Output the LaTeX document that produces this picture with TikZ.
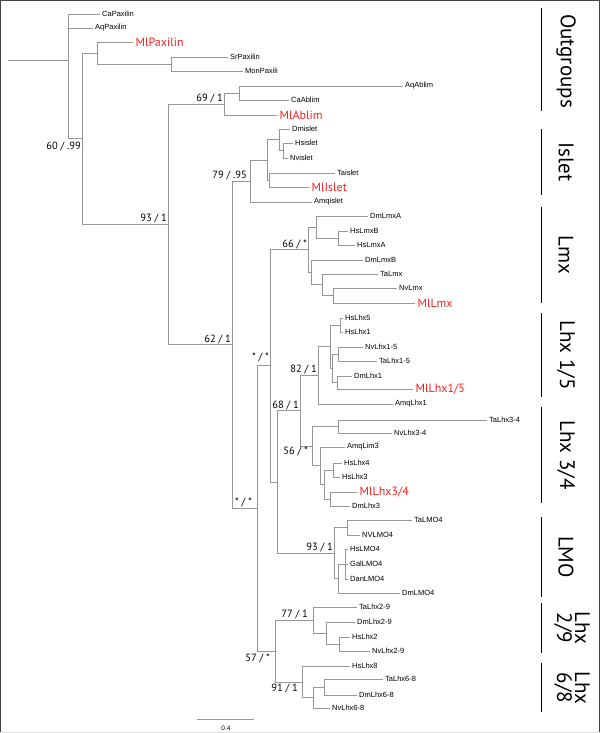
\documentclass[tikz,border=0pt]{standalone}
\usepackage{fontspec}
\setmainfont{Liberation Sans}
\newfontfamily\cladefont{PT Sans}
\definecolor{branchgray}{RGB}{150,150,150}
\definecolor{mlred}{RGB}{250,30,30}

\begin{document}
\begin{tikzpicture}[x=1pt,y=-1pt,
    branch/.style={
% The line:
draw=branchgray, line width=0.8pt,
},
    taxon/.style={
% The anchor:
anchor=west, inner sep=2pt,
% The text:
font=\fontsize{7.5}{9}\selectfont,
},
    ml/.style={
% The anchor:
anchor=west, inner sep=2.5pt,
% The text:
font=\cladefont\fontsize{12}{14}\selectfont, text=mlred,
},
    support/.style={
inner sep=1pt,
font=\cladefont\fontsize{10.5}{12}\selectfont,
},
    clade/.style={
rotate=-90, align=center,
font=\cladefont\fontsize{21}{18}\selectfont,
},
    cladebar/.style={draw=black, line width=0.8pt},
]
  \useasboundingbox (0,0) rectangle (600,733);
  % frame
  \draw[black!75, line width=1pt] (0.5,733) -- (0.5,0.5) -- (599.5,0.5) -- (599.5,733);
  \draw[black!12, line width=1pt] (0,732.5) -- (600,732.5);

  % internal nodes
  \coordinate (root) at (8,60);
  \coordinate (nA) at (68,60);
  \coordinate (nB) at (82,138.7);
  \coordinate (nPax) at (97,53);
  \coordinate (nSr) at (171,64);
  \coordinate (nC) at (168,224.4);
  \coordinate (nAbl) at (224,104);
  \coordinate (nAblB) at (239,93);
  \coordinate (nD) at (232,344.7);
  \coordinate (nE) at (250,181);
  \coordinate (nF) at (267,159.9);
  \coordinate (nG) at (279,139.7);
  \coordinate (nI) at (283,150.5);
  \coordinate (nH) at (269,180);
  \coordinate (nK) at (257,508.4);
  \coordinate (nL) at (270,365.8);
  \coordinate (nLmx) at (308,249.7);
  \coordinate (nLmxA) at (316,227);
  \coordinate (nLmxB) at (338,238);
  \coordinate (nLmxC) at (311,272.4);
  \coordinate (nLmxD) at (322,284.7);
  \coordinate (nLmxE) at (333,295.5);
  \coordinate (nP) at (277,481.9);
  \coordinate (nQ) at (300,410.7);
  \coordinate (nLhxI) at (318,375.3);
  \coordinate (nS) at (330,346.6);
  \coordinate (nR) at (340,325);
  \coordinate (nW) at (332,368.2);
  \coordinate (nU) at (338,354);
  \coordinate (nV) at (337,382.5);
  \coordinate (nLhxIII) at (312,446.1);
  \coordinate (nX) at (338,426.5);
  \coordinate (nY) at (320,465.7);
  \coordinate (nZ) at (324,484.5);
  \coordinate (nZa) at (333,470);
  \coordinate (nZb) at (330,499);
  \coordinate (nLMO) at (334,553);
  \coordinate (nLMOa) at (347,527.5);
  \coordinate (nLMOb) at (338,578.5);
  \coordinate (nLMOc) at (345,564);
  \coordinate (nM) at (275,651);
  \coordinate (nLhxII) at (313,620);
  \coordinate (nNa) at (326,633);
  \coordinate (nNb) at (339,644);
  \coordinate (nLhxVI) at (302,682);
  \coordinate (nOa) at (313,697.5);
  \coordinate (nOb) at (324,687);

  % leaves
  \node[taxon] (CaPaxilin) at (100,14) {CaPaxilin};
  \node[taxon] (AqPaxilin) at (93,28) {AqPaxilin};
  \node[ml] (MlPaxilin) at (133,42) {MlPaxilin};
  \node[taxon] (SrPaxilin) at (228,57) {SrPaxilin};
  \node[taxon] (MonPaxili) at (243,71) {MonPaxili};
  \node[taxon] (AqAblim) at (403,86) {AqAblim};
  \node[taxon] (CaAblim) at (289,100) {CaAblim};
  \node[ml] (MlAblim) at (277,115) {MlAblim};
  \node[taxon] (Dmislet) at (290,129) {Dmislet};
  \node[taxon] (Hsislet) at (293,143) {Hsislet};
  \node[taxon] (Nvislet) at (288,158) {Nvislet};
  \node[taxon] (Taislet) at (335,173) {Taislet};
  \node[ml] (MlIslet) at (309,187) {MlIslet};
  \node[taxon] (Amqislet) at (312,202) {Amqislet};
  \node[taxon] (DmLmxA) at (368,216) {DmLmxA};
  \node[taxon] (HsLmxB) at (348,231) {HsLmxB};
  \node[taxon] (HsLmxA) at (355,245) {HsLmxA};
  \node[taxon] (DmLmxB) at (363,260) {DmLmxB};
  \node[taxon] (TaLmx) at (378,274) {TaLmx};
  \node[taxon] (NvLmx) at (397,288) {NvLmx};
  \node[ml] (MlLmx) at (415,303) {MlLmx};
  \node[taxon] (HsLhx5) at (343,318) {HsLhx5};
  \node[taxon] (HsLhx1) at (343,332) {HsLhx1};
  \node[taxon] (NvLhx15) at (363,347) {NvLhx1-5};
  \node[taxon] (TaLhx15) at (377,361) {TaLhx1-5};
  \node[taxon] (DmLhx1) at (352,376) {DmLhx1};
  \node[ml] (MlLhx15) at (413,389) {MlLhx1/5};
  \node[taxon] (AmqLhx1) at (393,404) {AmqLhx1};
  \node[taxon] (TaLhx34) at (487,420) {TaLhx3-4};
  \node[taxon] (NvLhx34) at (392,433) {NvLhx3-4};
  \node[taxon] (AmqLim3) at (345,447) {AmqLim3};
  \node[taxon] (HsLhx4) at (342,463) {HsLhx4};
  \node[taxon] (HsLhx3) at (340,477) {HsLhx3};
  \node[ml] (MlLhx34) at (357,492) {MlLhx3/4};
  \node[taxon] (DmLhx3) at (350,506) {DmLhx3};
  \node[taxon] (TaLMO4) at (412,520) {TaLMO4};
  \node[taxon] (NVLMO4) at (360,535) {NVLMO4};
  \node[taxon] (HsLMO4) at (348,549) {HsLMO4};
  \node[taxon] (GalLMO4) at (348,564) {GalLMO4};
  \node[taxon] (DanLMO4) at (348,579) {DanLMO4};
  \node[taxon] (DmLMO4) at (400,593) {DmLMO4};
  \node[taxon] (TaLhx29) at (357,607) {TaLhx2-9};
  \node[taxon] (DmLhx29) at (355,622) {DmLhx2-9};
  \node[taxon] (HsLhx2) at (350,637) {HsLhx2};
  \node[taxon] (NvLhx29) at (370,651) {NvLhx2-9};
  \node[taxon] (HsLhx8) at (350,666) {HsLhx8};
  \node[taxon] (TaLhx68) at (383,679) {TaLhx6-8};
  \node[taxon] (DmLhx68) at (357,695) {DmLhx6-8};
  \node[taxon] (NvLhx68) at (330,708) {NvLhx6-8};

  % branches
  \draw[branch] (root) -- (nA);
  \draw[branch] (nA) |- (CaPaxilin) (nA) |- (AqPaxilin) (nA) |- (nB);
  \draw[branch] (nB) |- (nPax) (nB) |- (nC);
  \draw[branch] (nPax) |- (MlPaxilin) (nPax) |- (nSr);
  \draw[branch] (nSr) |- (SrPaxilin) (nSr) |- (MonPaxili);
  \draw[branch] (nC) |- (nAbl) (nC) |- (nD);
  \draw[branch] (nAbl) |- (nAblB) (nAbl) |- (MlAblim);
  \draw[branch] (nAblB) |- (AqAblim) (nAblB) |- (CaAblim);
  \draw[branch] (nD) |- (nE) (nD) |- (nK);
  \draw[branch] (nE) |- (nF) (nE) |- (Amqislet);
  \draw[branch] (nF) |- (nG) (nF) |- (nH);
  \draw[branch] (nG) |- (Dmislet) (nG) |- (nI);
  \draw[branch] (nI) |- (Hsislet) (nI) |- (Nvislet);
  \draw[branch] (nH) |- (Taislet) (nH) |- (MlIslet);
  \draw[branch] (nK) |- (nL) (nK) |- (nM);
  \draw[branch] (nL) |- (nLmx) (nL) |- (nP);
  \draw[branch] (nLmx) |- (nLmxA) (nLmx) |- (nLmxC);
  \draw[branch] (nLmxA) |- (DmLmxA) (nLmxA) |- (nLmxB);
  \draw[branch] (nLmxB) |- (HsLmxB) (nLmxB) |- (HsLmxA);
  \draw[branch] (nLmxC) |- (DmLmxB) (nLmxC) |- (nLmxD);
  \draw[branch] (nLmxD) |- (TaLmx) (nLmxD) |- (nLmxE);
  \draw[branch] (nLmxE) |- (NvLmx) (nLmxE) |- (MlLmx);
  \draw[branch] (nP) |- (nQ) (nP) |- (nLMO);
  \draw[branch] (nQ) |- (nLhxI) (nQ) |- (nLhxIII);
  \draw[branch] (nLhxI) |- (nS) (nLhxI) |- (AmqLhx1);
  \draw[branch] (nS) |- (nR) (nS) |- (nW);
  \draw[branch] (nR) |- (HsLhx5) (nR) |- (HsLhx1);
  \draw[branch] (nW) |- (nU) (nW) |- (nV);
  \draw[branch] (nU) |- (NvLhx15) (nU) |- (TaLhx15);
  \draw[branch] (nV) |- (DmLhx1) (nV) |- (MlLhx15);
  \draw[branch] (nLhxIII) |- (nX) (nLhxIII) |- (nY);
  \draw[branch] (nX) |- (TaLhx34) (nX) |- (NvLhx34);
  \draw[branch] (nY) |- (AmqLim3) (nY) |- (nZ);
  \draw[branch] (nZ) |- (nZa) (nZ) |- (nZb);
  \draw[branch] (nZa) |- (HsLhx4) (nZa) |- (HsLhx3);
  \draw[branch] (nZb) |- (MlLhx34) (nZb) |- (DmLhx3);
  \draw[branch] (nLMO) |- (nLMOa) (nLMO) |- (nLMOb);
  \draw[branch] (nLMOa) |- (TaLMO4) (nLMOa) |- (NVLMO4);
  \draw[branch] (nLMOb) |- (nLMOc) (nLMOb) |- (DmLMO4);
  \draw[branch] (nLMOc) |- (HsLMO4) (nLMOc) |- (GalLMO4) (nLMOc) |- (DanLMO4);
  \draw[branch] (nM) |- (nLhxII) (nM) |- (nLhxVI);
  \draw[branch] (nLhxII) |- (TaLhx29) (nLhxII) |- (nNa);
  \draw[branch] (nNa) |- (DmLhx29) (nNa) |- (nNb);
  \draw[branch] (nNb) |- (HsLhx2) (nNb) |- (NvLhx29);
  \draw[branch] (nLhxVI) |- (HsLhx8) (nLhxVI) |- (nOa);
  \draw[branch] (nOa) |- (nOb) (nOa) |- (NvLhx68);
  \draw[branch] (nOb) |- (TaLhx68) (nOb) |- (DmLhx68);

  % support values
  \node[support, anchor=north east, yshift=-2pt] (bsB) at (nB) {60 / .99};
  \node[support, anchor=south east] (bsC) at (nC) {93 / 1};
  \node[support, anchor=south east] (bsAbl) at (nAbl) {69 / 1};
  \node[support, anchor=south east, xshift=-2pt] (bsE) at (nE) {79 / .95};
  \node[support, anchor=south east] (bsD) at (nD) {62 / 1};
  \node[support, anchor=south east] (bsLmx) at (nLmx) {66 / *};
  \node[support, anchor=south east, yshift=3pt] (bsL) at (nL) {* / *};
  \node[support, anchor=south east] (bsLhxI) at (nLhxI) {82 / 1};
  \node[support, anchor=south east] (bsQ) at (nQ) {68 / 1};
  \node[support, anchor=north east, xshift=-3pt] (bsLhxIII) at (nLhxIII) {56 / *};
  \node[support, anchor=south east, xshift=-4pt] (bsK) at (nK) {* / *};
  \node[support, anchor=south east] (bsLMO) at (nLMO) {93 / 1};
  \node[support, anchor=south east, xshift=-4pt] (bsLhxII) at (nLhxII) {77 / 1};
  \node[support, anchor=north east, xshift=-4pt, yshift=-2pt] (bsM) at (nM) {57 / *};
  \node[support, anchor=north east, xshift=-3pt, yshift=-1pt] (bsLhxVI) at (nLhxVI) {91 / 1};

  % clade bars
  \draw[cladebar] (541,8) -- (541,111);
  \draw[cladebar] (541,129) -- (541,195);
  \draw[cladebar] (541,207) -- (541,303);
  \draw[cladebar] (541,313) -- (541,397);
  \draw[cladebar] (541,407) -- (541,503);
  \draw[cladebar] (541,517) -- (541,597);
  \draw[cladebar] (541,603) -- (541,653);
  \draw[cladebar] (541,663) -- (541,712);
  \node[clade] (cOut) at (566,61) {Outgroups};
  \node[clade] (cIslet) at (566,162) {Islet};
  \node[clade] (cLmx) at (566,255) {Lmx};
  \node[clade] (cLhxI) at (566,355) {Lhx 1/5};
  \node[clade] (cLhxIII) at (566,455) {Lhx 3/4};
  \node[clade] (cLMO) at (566,557) {LMO};
  \node[clade] (cLhxII) at (572,628) {Lhx\\2/9};
  \node[clade] (cLhxVI) at (572,688) {Lhx\\6/8};

  % scale bar
  \coordinate (sbL) at (197,719);
  \coordinate (sbR) at (254,719);
  \draw[branch] (sbL) -- (sbR);
  \node[font=\fontsize{6.5}{7}\selectfont, inner sep=1pt] (sbText) at (226,728) {0.4};

\end{tikzpicture}
\end{document}
